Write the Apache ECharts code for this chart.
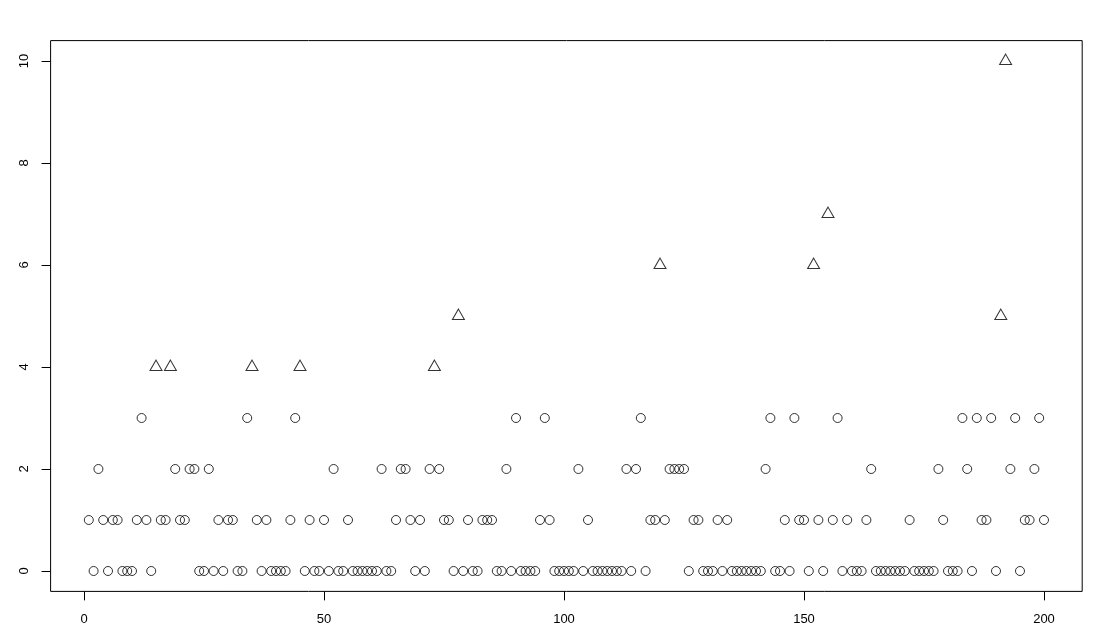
<!DOCTYPE html>
<html>
<head>
<meta charset="utf-8">
<script src="https://cdn.jsdelivr.net/npm/echarts@6/dist/echarts.min.js"></script>
<style>
html,body{margin:0;padding:0;background:#fff;}
#chart{width:1099px;height:642px;}
</style>
</head>
<body>
<div id="chart"></div>
<script>
// Values for index 1..200
var values = [
  1,0,2,1,0,1,1,0,0,0,
  1,3,1,0,4,1,1,4,2,1,
  1,2,2,0,0,2,0,1,0,1,
  1,0,0,3,4,1,0,1,0,0,
  0,0,1,3,4,0,1,0,0,1,
  0,2,0,0,1,0,0,0,0,0,
  0,2,0,0,1,2,2,1,0,1,
  0,2,4,2,1,1,0,5,0,1,
  0,0,1,1,1,0,0,2,0,3,
  0,0,0,0,1,3,1,0,0,0,
  0,0,2,0,1,0,0,0,0,0,
  0,0,2,0,2,3,0,1,1,6,
  1,2,2,2,2,0,1,1,0,0,
  0,1,0,1,0,0,0,0,0,0,
  0,2,3,0,0,1,0,3,1,1,
  0,6,1,0,7,1,3,0,1,0,
  0,0,1,2,0,0,0,0,0,0,
  0,1,0,0,0,0,0,2,1,0,
  0,0,3,2,0,3,1,1,3,0,
  5,10,2,3,0,1,1,2,3,1
];
var xTicks = [0, 50, 100, 150, 200];
var yTicks = [0, 2, 4, 6, 8, 10];
var threshold = 4;

var circles = [], triangles = [];
values.forEach(function (v, i) {
  if (v >= threshold) triangles.push([i + 1, v]);
  else circles.push([i + 1, v]);
});

var xMin = 1 - 0.04 * 199, xMax = 200 + 0.04 * 199;
var yMin = -0.4, yMax = 10.4;

var chart = echarts.init(document.getElementById('chart'), null, {renderer: 'canvas'});
var labelStyle = {color: '#000', fontFamily: 'Liberation Sans, Arial, sans-serif', fontSize: 13};
chart.setOption({
  animation: false,
  backgroundColor: '#fff',
  grid: {left: 50.6, right: 16.8, top: 40.6, bottom: 50.6, show: true,
         borderColor: '#000', borderWidth: 1, backgroundColor: 'transparent'},
  xAxis: {
    type: 'value', min: xMin, max: xMax,
    axisLine: {show: false, onZero: false},
    splitLine: {show: false},
    axisTick: {show: true, inside: false, length: 9, customValues: xTicks,
               lineStyle: {color: '#000', width: 1}},
    axisLabel: Object.assign({customValues: xTicks, margin: 22,
               formatter: function (v) { return String(v); }}, labelStyle)
  },
  yAxis: {
    type: 'value', min: yMin, max: yMax,
    axisLine: {show: false, onZero: false},
    splitLine: {show: false},
    axisTick: {show: true, inside: false, length: 9, customValues: yTicks,
               lineStyle: {color: '#000', width: 1}},
    axisLabel: Object.assign({customValues: yTicks, margin: 20, rotate: 90,
               formatter: function (v) { return String(v); }}, labelStyle)
  },
  series: [
    {
      type: 'scatter', data: circles, symbol: 'circle', symbolSize: 9,
      itemStyle: {color: 'transparent', borderColor: '#000', borderWidth: 1}
    },
    {
      type: 'scatter', data: triangles, symbol: 'triangle', symbolSize: [12, 10.3],
      symbolOffset: [0, -1.7],
      itemStyle: {color: 'transparent', borderColor: '#000', borderWidth: 1}
    }
  ]
});
</script>
</body>
</html>
